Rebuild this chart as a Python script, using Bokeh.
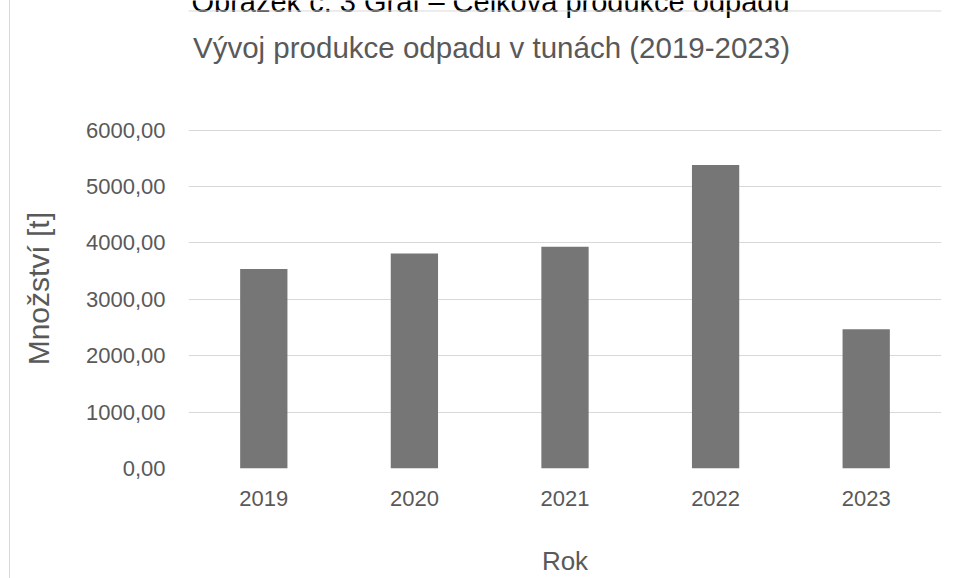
from bokeh.plotting import figure
from bokeh.models import Range1d, FactorRange, FixedTicker, Span, ColumnDataSource
from bokeh.core.properties import value
from bokeh.embed import file_html
from bokeh.resources import INLINE

# ---- data ----
years = ["2019", "2020", "2021", "2022", "2023"]
amounts = [3538, 3815, 3933, 5385, 2469]
y_ticks = [0, 1000, 2000, 3000, 4000, 5000, 6000]
y_tick_labels = ["0,00", "1000,00", "2000,00", "3000,00", "4000,00", "5000,00", "6000,00"]
caption_text = "Obrázek č. 3 Graf – Celková produkce odpadu"
title_text = "Vývoj produkce odpadu v tunách (2019-2023)"
x_label = "Rok"
y_label = "Množství [t]"

# ---- layout (page pixels) ----
PAGE_W, PAGE_H = 958, 578
X0 = 10                      # canvas left edge on the page (left border drawn at x=9)
W, H = PAGE_W - X0, PAGE_H
FL, FR = 188, 941            # plot area left / right (page px)
GT, FB = 130, 469            # top gridline (6000) / baseline (0) (page px)
FONT = "Liberation Sans"
TXT = "#595959"
GRID = "#d9d9d9"
BAR = "#767676"
Y_MAX = y_ticks[-1]
Y_TITLE_PX = 30
Y_TITLE_CENTER = 290         # page y of the centre of the y axis title
# frame reaches the canvas top so that title and caption can live inside it
Y_TOP = Y_MAX * FB / (FB - GT)

def dx(px):
    return (px - FL) / (FR - FL) * len(years)

def dy(py):
    return (FB - py) / (FB - GT) * Y_MAX

p = figure(x_range=FactorRange(*years, range_padding=0),
           y_range=Range1d(0, Y_TOP),
           width=W, height=H, output_backend="svg", toolbar_location=None,
           min_border_left=FL - X0, min_border_right=PAGE_W - FR,
           min_border_top=0, min_border_bottom=PAGE_H - FB)
p.styles = {"margin-left": f"{X0}px", "box-shadow": f"-1px 0 0 0 {GRID}"}
p.outline_line_color = None
p.background_fill_color = "white"
p.border_fill_color = "white"

src = ColumnDataSource(dict(year=years, amount=amounts))
p.vbar(x="year", top="amount", width=0.314, source=src,
       fill_color=BAR, line_color=None)

# y axis
p.yaxis.ticker = FixedTicker(ticks=y_ticks)
p.yaxis.major_label_overrides = {t: l for t, l in zip(y_ticks, y_tick_labels)}
p.yaxis.axis_line_color = None
p.yaxis.major_tick_line_color = None
p.yaxis.minor_tick_line_color = None
p.yaxis.major_tick_out = 0
p.yaxis.major_tick_in = 0
p.yaxis.major_label_standoff = 23
p.yaxis.major_label_text_font = FONT
p.yaxis.major_label_text_font_size = "22px"
p.yaxis.major_label_text_color = TXT
# the axis title is centred on the frame (which reaches the canvas top); pad its
# upper end with no-break spaces so the visible words sit where the reference has them
shift = Y_TITLE_CENTER - FB / 2
n_pad = round(2 * shift / (0.278 * Y_TITLE_PX))
p.yaxis.axis_label = y_label + "\u00a0" * n_pad
p.yaxis.axis_label_text_font = FONT
p.yaxis.axis_label_text_font_size = f"{Y_TITLE_PX}px"
p.yaxis.axis_label_text_font_style = "normal"
p.yaxis.axis_label_text_color = TXT
p.yaxis.axis_label_standoff = 28

# x axis
p.xaxis.axis_line_color = None
p.xaxis.major_tick_line_color = None
p.xaxis.minor_tick_line_color = None
p.xaxis.major_tick_out = 0
p.xaxis.major_tick_in = 0
p.xaxis.major_label_standoff = 22
p.xaxis.major_label_text_font = FONT
p.xaxis.major_label_text_font_size = "22px"
p.xaxis.major_label_text_color = TXT
p.xaxis.axis_label = x_label
p.xaxis.axis_label_text_font = FONT
p.xaxis.axis_label_text_font_size = "26px"
p.xaxis.axis_label_text_font_style = "normal"
p.xaxis.axis_label_text_color = TXT
p.xaxis.axis_label_standoff = 37

# grid
p.xgrid.grid_line_color = None
p.ygrid.grid_line_color = GRID
p.ygrid.grid_line_width = 1

# top border of the chart box
p.add_layout(Span(location=dy(10.5), dimension="width", line_color=GRID, line_width=1))

# title and (cut-off) caption
p.text(x=[dx(491)], y=[dy(47)], text=[title_text], text_font=value(FONT),
       text_font_size="29.5px", text_color=TXT, text_align="center",
       text_baseline="middle")
p.text(x=[dx(490)], y=[dy(2)], text=[caption_text], text_font=value(FONT),
       text_font_size="29px", text_color="black", text_align="center",
       text_baseline="middle")

open("out.html", "w").write(file_html(p, INLINE))
